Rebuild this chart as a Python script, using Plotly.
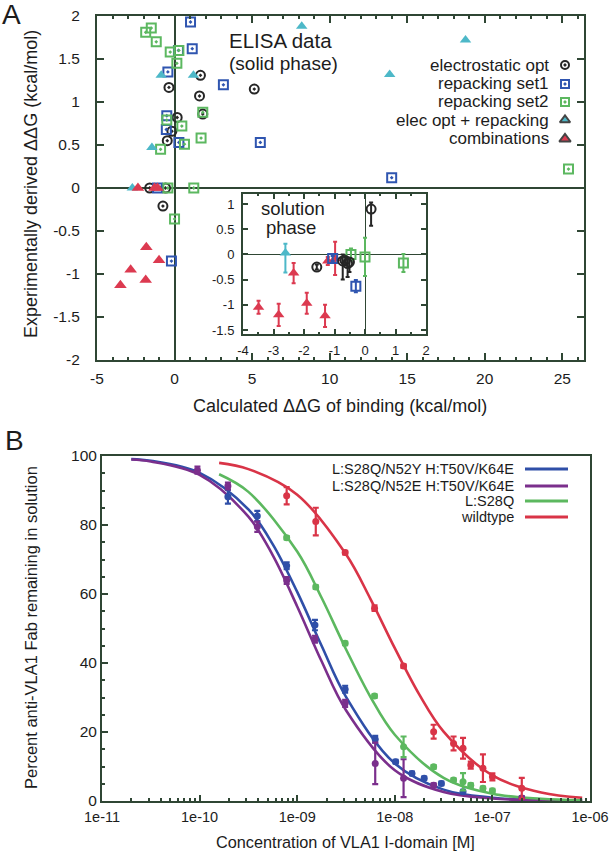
import plotly.graph_objects as go

W, H = 614, 852
FONT = "Liberation Sans, Arial, sans-serif"
FRAME = "#2f4634"
TXT = "#1c1c1c"

def fx(p):
    return p / W

def fy(p):
    return 1 - p / H

# ---------------- Panel A (ELISA, solid phase) ----------------
elec_x = [-0.36, 1.67, 1.61, 1.82, 0.17, -0.17, -0.47, 5.14, -1.6, -0.58, -0.75]
elec_y = [1.17, 1.31, 1.07, 0.86, 0.82, 0.66, 0.55, 1.15, 0.0, 0.0, -0.21]
rep1_x = [1.03, 1.14, 0.25, -0.43, 3.15, -0.5, -0.53, 0.28, 5.53, 14.0, -1.1, -0.2]
rep1_y = [1.93, 1.62, 1.6, 1.35, 1.2, 0.84, 0.68, 0.53, 0.53, 0.12, 0.0, -0.85]
rep2_x = [-1.86, -1.5, -1.18, -0.28, 0.28, 0.15, 1.82, -0.5, 0.47, 1.71, -0.9, 0.64, 1.24, -0.43, 0.0, 25.4]
rep2_y = [1.81, 1.86, 1.70, 1.58, 1.60, 1.45, 0.88, 0.79, 0.72, 0.58, 0.45, 0.51, 0.0, 0.0, -0.36, 0.22]
eor_x = [-0.86, 1.22, -1.46, -2.72, 8.2, 18.76, 13.87]
eor_y = [1.31, 1.31, 0.47, 0.0, 1.88, 1.72, 1.32]
comb_x = [-2.36, -1.29, -1.1, -1.82, -1.0, -2.83, -1.86, -3.49]
comb_y = [0.0, 0.0, 0.0, -0.69, -0.84, -0.95, -1.07, -1.13]

a_xticks = [-5, 0, 5, 10, 15, 20, 25]
a_yticks = [-2, -1.5, -1, -0.5, 0, 0.5, 1, 1.5, 2]

# ---------------- Inset (solution phase) ----------------
in_elec_x = [-1.58, 0.2, -0.73, -0.65, -0.57, -0.51]
in_elec_y = [-0.25, 0.9, -0.13, -0.12, -0.18, -0.15]
in_elec_up = [0.05, 0.13, 0.13, 0.08, 0.1, 0.08]
in_elec_dn = [0.05, 0.33, 0.37, 0.1, 0.27, 0.2]
in_rep1_x = [-1.06, -0.3]
in_rep1_y = [-0.08, -0.63]
in_rep1_err = [0.05, 0.12]
in_rep2_x = [-0.46, 0.0, 1.26]
in_rep2_y = [0.0, -0.05, -0.17]
in_rep2_err = [0.12, 0.38, 0.18]
in_eor_x = [-2.61]
in_eor_y = [0.03]
in_eor_up = [0.18]
in_eor_dn = [0.39]
in_comb_x = [-3.49, -2.83, -2.34, -1.91, -1.31, -1.22, -0.98]
in_comb_y = [-1.05, -1.2, -0.37, -0.97, -1.22, -0.13, -0.08]
in_comb_err = [0.13, 0.22, 0.2, 0.21, 0.22, 0.08, 0.33]

in_xticks = [-4, -3, -2, -1, 0, 1, 2]
in_yticks = [-1.5, -1, -0.5, 0, 0.5, 1]

# ---------------- Panel B (solution depletion) ----------------
b_names = ["L:S28Q/N52Y H:T50V/K64E", "L:S28Q/N52E H:T50V/K64E", "L:S28Q", "wildtype"]
b_colors = ["#2f4fa8", "#7b2f8c", "#5cb85f", "#d93447"]

blue_x = [1.95e-10, 3.9e-10, 7.8e-10, 1.52e-9, 3.1e-9, 6.3e-9, 1.02e-8, 1.5e-8, 2.0e-8, 3.0e-8, 5.0e-8]
blue_y = [88.2, 82.6, 68.2, 51.0, 32.4, 17.9, 11.4, 8.0, 6.6, 5.1, 2.7]
blue_e = [2.0, 1.5, 1.0, 1.5, 1.0, 1.0, 0.5, 0.5, 0.5, 0.5, 0.5]
purp_x = [9.5e-11, 1.95e-10, 3.9e-10, 7.8e-10, 1.52e-9, 3.1e-9, 6.3e-9, 1.23e-8, 2.5e-8, 2.0e-7]
purp_y = [95.9, 91.3, 79.5, 63.9, 46.9, 28.3, 10.9, 6.6, 4.6, 0.9]
purp_e = [1.0, 1.0, 1.5, 1.0, 1.0, 1.0, 6.0, 5.5, 0.5, 0.5]
green_x = [7.8e-10, 1.55e-9, 3.1e-9, 6.2e-9, 1.23e-8, 2.5e-8, 4.0e-8, 5.0e-8, 6.0e-8, 8.0e-8, 1.0e-7]
green_y = [76.3, 62.0, 45.7, 30.4, 15.7, 9.9, 6.1, 5.6, 4.6, 3.7, 3.0]
green_e = [0.5, 0.5, 0.5, 0.5, 3.0, 0.5, 0.5, 2.5, 0.5, 0.5, 0.5]
red_x = [7.8e-10, 1.55e-9, 3.1e-9, 6.2e-9, 1.23e-8, 2.5e-8, 4.0e-8, 5.0e-8, 6.0e-8, 8.0e-8, 1.0e-7, 2.0e-7]
red_y = [88.5, 81.0, 72.0, 55.9, 39.1, 20.1, 16.7, 15.3, 10.4, 9.5, 7.0, 3.7]
red_e = [2.5, 4.0, 0.5, 0.8, 0.5, 2.0, 2.0, 3.0, 1.0, 4.0, 1.0, 3.0]

# fitted curves (log10 concentration, percent)
fit_lx_bp = [-10.7, -10.5, -10.0, -9.5, -9.25, -9.0, -8.75, -8.5, -8.0, -7.5, -7.0, -6.5, -6.08]
fit_blue = [99.1, 98.6, 95.1, 84.5, 74.4, 60.6, 45.0, 30.2, 10.9, 3.3, 0.96, 0.27, 0.1]
fit_purp = [99.0, 98.4, 94.5, 82.4, 71.2, 56.4, 40.5, 26.3, 8.9, 2.6, 0.74, 0.2, 0.06]
fit_lx_g = [-9.8, -9.5, -9.0, -8.75, -8.5, -8.25, -8.0, -7.5, -7.0, -6.5, -6.08]
fit_green = [94.7, 89.6, 72.3, 58.9, 44.0, 30.2, 19.2, 6.7, 2.1, 0.65, 0.25]
fit_lx_r = [-9.8, -9.5, -9.0, -8.5, -8.25, -8.0, -7.75, -7.5, -7.0, -6.5, -6.08]
fit_red = [98.0, 96.2, 88.8, 71.5, 58.6, 44.3, 30.9, 20.1, 7.4, 2.45, 0.94]

b_xticks = [1e-11, 1e-10, 1e-9, 1e-8, 1e-7, 1e-6]
b_xticktext = ["1e-11", "1e-10", "1e-09", "1e-08", "1e-07", "1e-06"]
b_yticks = [0, 20, 40, 60, 80, 100]


def fmt(v):
    return "%g" % v


fig = go.Figure()

C_BLACK = "#262626"
C_BLUE = "#2f55b0"
C_GREEN = "#5cb860"
C_CYAN = "#4db8c8"
C_RED = "#dc3a50"

# Panel A scatter
fig.add_trace(go.Scatter(x=elec_x, y=elec_y, mode="markers", xaxis="x", yaxis="y",
                         marker=dict(symbol="circle-open-dot", size=9, color=C_BLACK, line=dict(width=2))))
fig.add_trace(go.Scatter(x=rep1_x, y=rep1_y, mode="markers", xaxis="x", yaxis="y",
                         marker=dict(symbol="square-open-dot", size=9, color=C_BLUE, line=dict(width=2))))
fig.add_trace(go.Scatter(x=rep2_x, y=rep2_y, mode="markers", xaxis="x", yaxis="y",
                         marker=dict(symbol="square-open-dot", size=9, color=C_GREEN, line=dict(width=2))))
fig.add_trace(go.Scatter(x=eor_x, y=eor_y, mode="markers", xaxis="x", yaxis="y",
                         marker=dict(symbol="triangle-up", size=10, color=C_CYAN)))
fig.add_trace(go.Scatter(x=comb_x, y=comb_y, mode="markers", xaxis="x", yaxis="y",
                         marker=dict(symbol="triangle-up", size=11, color=C_RED)))

# Inset scatter
def err(arr, col, arrminus=None):
    d = dict(type="data", array=arr, color=col, thickness=2, width=2)
    if arrminus is not None:
        d["arrayminus"] = arrminus
        d["symmetric"] = False
    return d

fig.add_trace(go.Scatter(x=in_eor_x, y=in_eor_y, mode="markers", xaxis="x2", yaxis="y2",
                         error_y=err(in_eor_up, C_CYAN, in_eor_dn),
                         marker=dict(symbol="triangle-up", size=10, color=C_CYAN)))
fig.add_trace(go.Scatter(x=in_comb_x, y=in_comb_y, mode="markers", xaxis="x2", yaxis="y2",
                         error_y=err(in_comb_err, C_RED),
                         marker=dict(symbol="triangle-up", size=10, color=C_RED)))
fig.add_trace(go.Scatter(x=in_rep1_x, y=in_rep1_y, mode="markers", xaxis="x2", yaxis="y2",
                         error_y=err(in_rep1_err, C_BLUE),
                         marker=dict(symbol="square-open", size=9, color=C_BLUE, line=dict(width=2))))
fig.add_trace(go.Scatter(x=in_rep2_x, y=in_rep2_y, mode="markers", xaxis="x2", yaxis="y2",
                         error_y=err(in_rep2_err, C_GREEN),
                         marker=dict(symbol="square-open", size=9, color=C_GREEN, line=dict(width=2))))
fig.add_trace(go.Scatter(x=in_elec_x, y=in_elec_y, mode="markers", xaxis="x2", yaxis="y2",
                         error_y=err(in_elec_up, C_BLACK, in_elec_dn),
                         marker=dict(symbol="circle-open", size=9, color=C_BLACK, line=dict(width=2))))

# Panel B
fits = [(fit_lx_bp, fit_blue), (fit_lx_bp, fit_purp), (fit_lx_g, fit_green), (fit_lx_r, fit_red)]
pts = [(blue_x, blue_y, blue_e), (purp_x, purp_y, purp_e), (green_x, green_y, green_e), (red_x, red_y, red_e)]
for (lx, fy_), col in zip(fits, b_colors):
    fig.add_trace(go.Scatter(x=[10 ** v for v in lx], y=fy_, mode="lines", xaxis="x3", yaxis="y3",
                             line=dict(color=col, width=2.6, shape="spline", smoothing=1.0)))
for (px_, py_, pe), col in zip(pts, b_colors):
    fig.add_trace(go.Scatter(x=px_, y=py_, mode="markers", xaxis="x3", yaxis="y3",
                             error_y=dict(type="data", array=pe, color=col, thickness=2.2, width=3),
                             marker=dict(symbol="circle", size=7, color=col)))

# Legend A symbols on a hidden pixel-coordinate axis
leg_a_labels = ["electrostatic opt", "repacking set1", "repacking set2", "elec opt + repacking", "combinations"]
leg_a_rows = [65, 84, 102, 120, 139]
leg_a_sym = [("circle-open-dot", C_BLACK, 8), ("square-open-dot", C_BLUE, 8), ("square-open-dot", C_GREEN, 8),
             ("triangle-up", C_CYAN, 9), ("triangle-up", C_RED, 10)]
for row, (sym, col, sz) in zip(leg_a_rows, leg_a_sym):
    fig.add_trace(go.Scatter(x=[565], y=[row], mode="markers", xaxis="x4", yaxis="y4",
                             marker=dict(symbol=sym, size=sz, color=col, line=dict(width=2))))

annotations = []
for row, lab in zip(leg_a_rows, leg_a_labels):
    annotations.append(dict(x=fx(550), y=fy(row), xref="paper", yref="paper", text=lab, showarrow=False,
                            xanchor="right", yanchor="middle", borderpad=0,
                            font=dict(size=17, color=TXT, family=FONT)))

leg_b_rows = [469, 486, 501, 517]
shapes = []
for row, lab, col in zip(leg_b_rows, b_names, b_colors):
    annotations.append(dict(x=fx(515), y=fy(row), xref="paper", yref="paper", text=lab, showarrow=False,
                            xanchor="right", yanchor="middle", borderpad=0,
                            font=dict(size=14.5, color=TXT, family=FONT)))
    shapes.append(dict(type="line", xref="paper", yref="paper", x0=fx(525), x1=fx(568), y0=fy(row), y1=fy(row),
                       line=dict(color=col, width=3)))

def ann(x, y, text, size, **kw):
    d = dict(x=fx(x), y=fy(y), xref="paper", yref="paper", text=text, showarrow=False,
             xanchor="center", yanchor="middle", font=dict(size=size, color=TXT, family=FONT))
    d.update(kw)
    annotations.append(d)

ann(12, 14, "A", 28)
ann(14, 440, "B", 28)
ann(280, 40, "ELISA data", 20.5)
ann(283, 63, "(solid phase)", 19)
ann(293, 209, "solution", 18.5)
ann(291, 227, "phase", 18.5)
ann(340, 406, "Calculated ΔΔG of binding (kcal/mol)", 18)
ann(31, 184, "Experimentally derived ΔΔG (kcal/mol)", 18, textangle=-90)
ann(345, 842, "Concentration of VLA1 I-domain [M]", 16.3)
ann(31, 628, "Percent anti-VLA1 Fab remaining in solution", 16.5, textangle=-90)

axis_common = dict(showgrid=False, showline=True, linecolor=FRAME, linewidth=2, ticks="inside",
                   tickcolor=FRAME, tickwidth=2, automargin=False, tickfont=dict(family=FONT, color=TXT))

fig.update_layout(
    width=W, height=H, margin=dict(l=0, r=0, t=0, b=0, pad=0, autoexpand=False),
    paper_bgcolor="white", plot_bgcolor="rgba(0,0,0,0)", showlegend=False,
    font=dict(family=FONT, color=TXT),
    annotations=annotations, shapes=shapes,
    xaxis=dict(axis_common, domain=[fx(97), fx(584)], range=[-5, 26.4], anchor="y",
               tickvals=a_xticks, ticktext=[fmt(v) for v in a_xticks], ticklen=7, mirror="ticks",
               minor=dict(dtick=1, ticks="inside", ticklen=3, tickcolor=FRAME, tickwidth=2),
               zeroline=True, zerolinecolor=FRAME, zerolinewidth=1.5, ticklabelstandoff=3,
               tickfont=dict(size=15.5, family=FONT, color=TXT)),
    yaxis=dict(axis_common, domain=[fy(360), fy(16)], range=[-2, 2], anchor="x",
               tickvals=a_yticks, ticktext=[fmt(v) for v in a_yticks], ticklen=7, mirror="ticks",
               zeroline=True, zerolinecolor=FRAME, zerolinewidth=1.5, ticklabelstandoff=12,
               tickfont=dict(size=15.5, family=FONT, color=TXT)),
    xaxis2=dict(axis_common, domain=[fx(243), fx(426)], range=[-4, 2], anchor="y2",
                tickvals=in_xticks, ticktext=[fmt(v) for v in in_xticks], ticklen=5, mirror="ticks",
                minor=dict(dtick=0.5, ticks="inside", ticklen=2, tickcolor=FRAME, tickwidth=1.5),
                zeroline=True, zerolinecolor=FRAME, zerolinewidth=1, ticklabelstandoff=3,
                tickfont=dict(size=13, family=FONT, color=TXT)),
    yaxis2=dict(axis_common, domain=[fy(334), fy(194)], range=[-1.58, 1.2], anchor="x2",
                tickvals=in_yticks, ticktext=[fmt(v) for v in in_yticks], ticklen=5, mirror="ticks",
                zeroline=True, zerolinecolor=FRAME, zerolinewidth=1, ticklabelstandoff=4,
                tickfont=dict(size=13, family=FONT, color=TXT)),
    xaxis3=dict(axis_common, type="log", domain=[fx(102), fx(590)], range=[-11, -6], anchor="y3",
                tickvals=b_xticks, ticktext=b_xticktext, ticklen=6, mirror=True,
                minor=dict(dtick="D1", ticks="inside", ticklen=3, tickcolor=FRAME, tickwidth=1.5),
                ticklabelstandoff=2, tickfont=dict(size=14.5, family=FONT, color=TXT)),
    yaxis3=dict(axis_common, domain=[fy(801), fy(456)], range=[0, 100], anchor="x3",
                tickvals=b_yticks, ticktext=[fmt(v) for v in b_yticks], ticklen=6, mirror=True,
                minor=dict(dtick=5, ticks="inside", ticklen=3, tickcolor=FRAME, tickwidth=1.5),
                ticklabelstandoff=0, tickfont=dict(size=15.5, family=FONT, color=TXT)),
    xaxis4=dict(domain=[0, 1], range=[0, W], anchor="y4", visible=False, fixedrange=True, automargin=False),
    yaxis4=dict(domain=[0, 1], range=[H, 0], anchor="x4", visible=False, fixedrange=True, automargin=False),
)

fig.write_html("out.html", config={"displayModeBar": False},
               post_script="document.body.style.margin='0';document.body.style.overflow='hidden';")
